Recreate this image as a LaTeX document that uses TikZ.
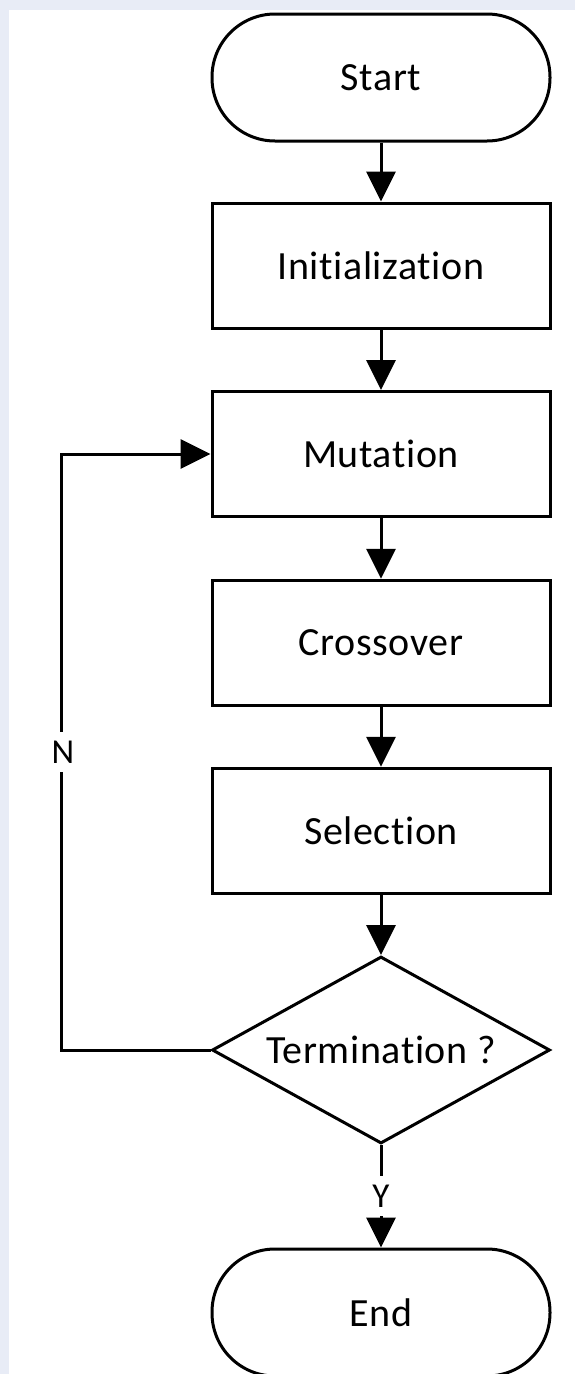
\documentclass[tikz,border=0pt]{standalone}
\usepackage{fontspec}
\setmainfont{Carlito}[Ligatures=NoCommon,LetterSpace=1.5]
\usetikzlibrary{arrows.meta,shapes.geometric}
\definecolor{bgblue}{RGB}{232,236,246}
\begin{document}
\begin{tikzpicture}[x=1pt,y=-1pt,line width=3pt,
  procbox/.style={draw, rectangle, minimum width=338pt, minimum height=125pt, inner sep=0pt, font=\fontsize{40}{48}\selectfont},
  termbox/.style={procbox, minimum height=127pt, rounded corners=63pt},
  decbox/.style={draw, diamond, aspect=1.8, minimum width=338pt, minimum height=187pt, inner sep=0pt, font=\fontsize{40}{48}\selectfont},
  lbl/.style={fill=white, inner sep=9pt, font=\fontsize{35}{40}\selectfont},
  arr/.style={-{Triangle[length=30pt,width=29pt]}}]
\fill[bgblue] (0,0) rectangle (575,1374);
\fill[white] (9,10) rectangle (575,1374);
\useasboundingbox (0,0) rectangle (575,1374);

\node[termbox] (start) at (381,77.5) {Start};
\node[procbox] (init) at (381,265.5) {Initialization};
\node[procbox] (mut) at (381,454) {Mutation};
\node[procbox] (cross) at (381,642.8) {Crossover};
\node[procbox] (sel) at (381,830.8) {Selection};
\node[decbox] (test) at (381,1050) {Termination ?};
\node[termbox] (end) at (381,1312.5) {End};

\draw[arr] (start) -- (init);
\draw[arr] (init) -- (mut);
\draw[arr] (mut) -- (cross);
\draw[arr] (cross) -- (sel);
\draw[arr] (sel) -- (test);
\draw[arr] (test.south) -- (end.north);
\draw[arr] (test.west) -- ++(-149,0) coordinate (lc) |- (mut.west);
\node[lbl] (nlab) at (63,752) {N};
\node[lbl] (ylab) at (381,1196) {Y};
\end{tikzpicture}
\end{document}
